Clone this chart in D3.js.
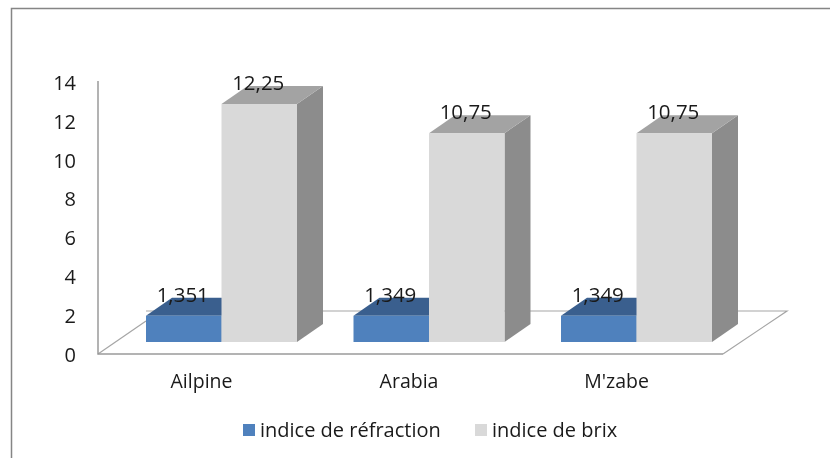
<!DOCTYPE html>
<html>
<head>
<meta charset="utf-8">
<script src="https://cdn.jsdelivr.net/npm/d3@7"></script>
<style>
  html, body { margin: 0; padding: 0; background: #fff; overflow: hidden; }
  svg { display: block; filter: blur(0.45px); }
  text { font-family: "Open Sans", sans-serif; fill: #1a1a1a; }
</style>
</head>
<body>
<div class="chart"></div>
<script>
const categories = ["Ailpine", "Arabia", "M'zabe"];
const seriesNames = ["indice de réfraction", "indice de brix"];
const refraction = [1.351, 1.349, 1.349];
const brix = [12.25, 10.75, 10.75];
const refractionLabels = ["1,351", "1,349", "1,349"];
const brixLabels = ["12,25", "10,75", "10,75"];
const yTicks = [0, 2, 4, 6, 8, 10, 12, 14];

const width = 830;
const height = 458;

// 3D look: depth of the floor and of the bars, floor is lifted off the axis
const floorDx = 64;
const floorDy = -43;
const barDx = 26;
const barDy = -18;
const barLift = 12;

const svg = d3
  .select(".chart")
  .append("svg")
  .attr("width", width)
  .attr("height", height);

// Chart frame, only top and left edges are inside the picture
svg
  .append("path")
  .attr(
    "d",
    d3.line()([
      [11.5, height],
      [11.5, 8.5],
      [width, 8.5],
    ])
  )
  .attr("fill", "none")
  .attr("stroke", "#858585")
  .attr("stroke-width", 1.5);

const yScale = d3.scaleLinear().domain([0, 14]).range([354, 82]);

const xScale = d3
  .scaleBand()
  .domain(categories)
  .range([146, 712])
  .paddingInner(0.2723)
  .paddingOuter(0);

// Floor
const floorLeft = 98;
const floorRight = 723;
const floorY = yScale(0);
svg
  .append("path")
  .attr(
    "d",
    d3.line()([
      [floorLeft, floorY],
      [floorLeft + floorDx - 16, floorY + floorDy + 10],
    ])
  )
  .attr("fill", "none")
  .attr("stroke", "#a5a5a5")
  .attr("stroke-width", 1.2);
svg
  .append("path")
  .attr(
    "d",
    d3.line()([
      [floorLeft + floorDx - 16, floorY + floorDy],
      [floorRight + floorDx, floorY + floorDy],
      [floorRight, floorY],
    ])
  )
  .attr("fill", "none")
  .attr("stroke", "#a5a5a5")
  .attr("stroke-width", 1.2);

// Axis lines
svg
  .append("path")
  .attr(
    "d",
    d3.line()([
      [floorLeft, 81],
      [floorLeft, floorY],
      [floorRight, floorY],
    ])
  )
  .attr("fill", "none")
  .attr("stroke", "#9a9a9a")
  .attr("stroke-width", 1.5);

// Y axis labels
const yAxis = svg
  .append("g")
  .attr("transform", "translate(76,1)")
  .call(d3.axisLeft(yScale).tickValues(yTicks).tickSize(0).tickPadding(0));
yAxis.select(".domain").remove();
yAxis
  .selectAll("text")
  .style("font-size", "20px")
  .attr("fill", null);

// X axis labels, they sit left of the group centre as on a 3D floor
const xAxis = svg
  .append("g")
  .attr("transform", "translate(-20,374)")
  .call(d3.axisBottom(xScale).tickSize(0).tickPadding(0));
xAxis.select(".domain").remove();
xAxis
  .selectAll("text")
  .style("font-size", "19.5px")
  .attr("fill", null);

const seriesScale = d3
  .scaleBand()
  .domain(d3.range(seriesNames.length))
  .range([0, xScale.bandwidth()]);

const seriesData = [
  { values: refraction, labels: refractionLabels, front: "#4f81bd", top: "#3a5f8e", side: "#3a5f8e" },
  { values: brix, labels: brixLabels, front: "#d9d9d9", top: "#a3a3a3", side: "#8c8c8c" },
];

function drawBox(g, x, w, v, s) {
  const base = yScale(0) - barLift;
  const top = yScale(v) - barLift;
  const poly = (pts, fill) =>
    g.append("polygon").attr("points", pts.join(" ")).attr("fill", fill);
  poly(
    [
      [x + w, top],
      [x + w + barDx, top + barDy],
      [x + w + barDx, base + barDy],
      [x + w, base],
    ],
    s.side
  );
  poly(
    [
      [x, top],
      [x + barDx, top + barDy],
      [x + w + barDx, top + barDy],
      [x + w, top],
    ],
    s.top
  );
  g.append("rect")
    .attr("x", x)
    .attr("y", top)
    .attr("width", w)
    .attr("height", base - top)
    .attr("fill", s.front);
}

// Bars, blue first so that the grey box sits over its side face
categories.forEach((cat, i) => {
  const g = svg.append("g");
  seriesData.forEach((s, j) => {
    drawBox(g, xScale(cat) + seriesScale(j), seriesScale.bandwidth(), s.values[i], s);
  });
  seriesData.forEach((s, j) => {
    g.append("text")
      .attr("x", xScale(cat) + seriesScale(j) + seriesScale.bandwidth() / 2 - 1)
      .attr("y", yScale(s.values[i]) - barLift - 14)
      .attr("text-anchor", "middle")
      .style("font-size", "20.5px")
      .text(s.labels[i]);
  });
});

// Legend
const legendX = [243, 475];
const legend = svg
  .selectAll(".legend")
  .data(seriesNames)
  .enter()
  .append("g")
  .attr("class", "legend")
  .attr("transform", (d, i) => `translate(${legendX[i]},424)`);
legend
  .append("rect")
  .attr("width", 12)
  .attr("height", 12)
  .attr("fill", (d, i) => seriesData[i].front);
legend
  .append("text")
  .attr("x", 17)
  .attr("y", 13)
  .style("font-size", "20px")
  .text((d) => d);
</script>
</body>
</html>
